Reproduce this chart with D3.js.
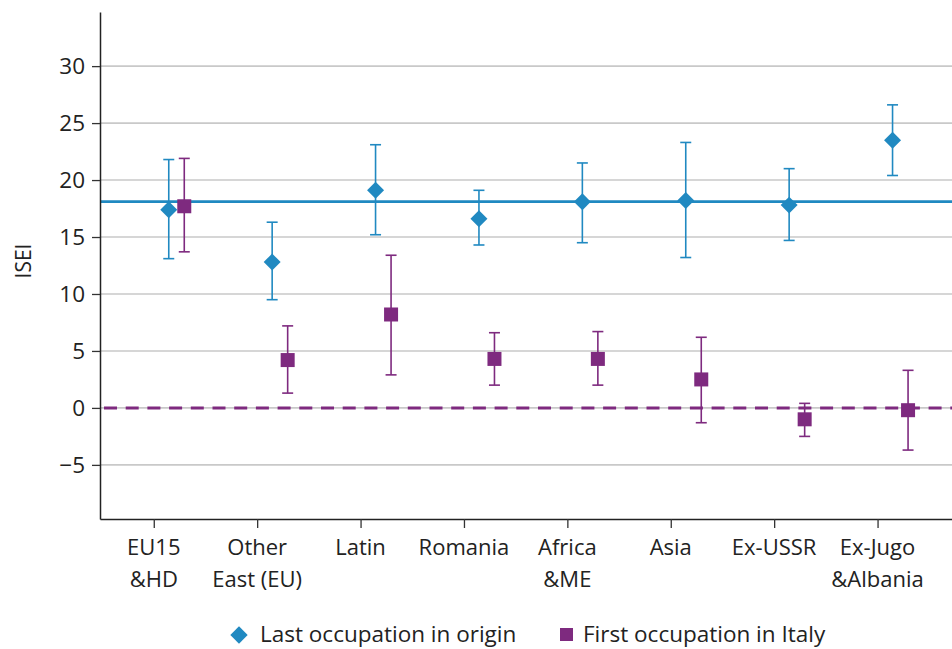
<!DOCTYPE html>
<html>
<head>
<meta charset="utf-8">
<script src="https://cdn.jsdelivr.net/npm/d3@7/dist/d3.min.js"></script>
<style>
  html, body { margin: 0; padding: 0; background: #fff; }
  svg { display: block; }
  text { font-family: "Open Sans", Lato, sans-serif; fill: #222; }
</style>
</head>
<body>
<svg id="chart" width="952" height="649"></svg>
<script>
// Origin groups (two-line labels split on "\n")
const categories = ["EU15\n&HD", "Other\nEast (EU)", "Latin", "Romania", "Africa\n&ME", "Asia", "Ex-USSR", "Ex-Jugo\n&Albania"];

// ISEI, last occupation in country of origin: estimate with confidence interval
const originValue = [17.4, 12.8, 19.1, 16.6, 18.1, 18.2, 17.8, 23.5];
const originLow   = [13.1,  9.5, 15.2, 14.3, 14.5, 13.2, 14.7, 20.4];
const originHigh  = [21.8, 16.3, 23.1, 19.1, 21.5, 23.3, 21.0, 26.6];

// ISEI, first occupation in Italy: estimate with confidence interval
const italyValue = [17.7, 4.2,  8.2, 4.3, 4.3,  2.5, -1.0, -0.2];
const italyLow   = [13.7, 1.3,  2.9, 2.0, 2.0, -1.3, -2.5, -3.7];
const italyHigh  = [21.9, 7.2, 13.4, 6.6, 6.7,  6.2,  0.4,  3.3];

// Reference levels drawn across the plot
const originReference = 18.1;
const italyReference = 0;

const yTicks = [-5, 0, 5, 10, 15, 20, 25, 30];
const seriesNames = ["Last occupation in origin", "First occupation in Italy"];

const blue = "#2089c1";
const purple = "#7e2a7f";
const gridColor = "#c9c9c9";

const svg = d3.select("#chart");
const plot = { left: 100, right: 952, top: 12, bottom: 519 };

const y = d3.scaleLinear().domain([-9.75, 34.75]).range([plot.bottom, plot.top]);
const x = d3.scaleLinear().domain([-0.52, 7.72]).range([plot.left, plot.right]);
const originOffset = 0.145, italyOffset = 0.295;

// Horizontal gridlines
svg.append("g")
  .selectAll("line")
  .data(yTicks)
  .join("line")
  .attr("x1", plot.left).attr("x2", plot.right)
  .attr("y1", d => y(d)).attr("y2", d => y(d))
  .attr("stroke", gridColor)
  .attr("stroke-width", 1.6);

// Reference lines
svg.append("line")
  .attr("x1", plot.left).attr("x2", plot.right)
  .attr("y1", y(italyReference)).attr("y2", y(italyReference))
  .attr("stroke", purple).attr("stroke-width", 3)
  .attr("stroke-dasharray", "13,8.7")
  .attr("stroke-dashoffset", -4);

svg.append("line")
  .attr("x1", plot.left).attr("x2", plot.right)
  .attr("y1", y(originReference)).attr("y2", y(originReference))
  .attr("stroke", blue).attr("stroke-width", 2.8);

// Y axis
const yAxis = svg.append("g")
  .attr("transform", `translate(${plot.left},0)`)
  .call(d3.axisLeft(y).tickValues(yTicks).tickSize(8).tickSizeOuter(0).tickPadding(7));
yAxis.select(".domain").attr("stroke", "#222").attr("stroke-width", 1.5);
yAxis.selectAll(".tick line").attr("stroke", "#333").attr("stroke-width", 1.3);
yAxis.selectAll(".tick text")
  .attr("font-size", 22.5)
  .attr("font-family", "'Open Sans', Lato, sans-serif")
  .attr("fill", "#222");

// X axis
const xAxis = svg.append("g")
  .attr("transform", `translate(0,${plot.bottom})`)
  .call(d3.axisBottom(x).tickValues(d3.range(categories.length)).tickSize(9).tickSizeOuter(0).tickFormat(""));
xAxis.select(".domain").attr("stroke", "#222").attr("stroke-width", 1.5);
xAxis.selectAll(".tick line").attr("stroke", "#333").attr("stroke-width", 1.3);

const xLabels = svg.append("g")
  .selectAll("text")
  .data(categories)
  .join("text")
  .attr("text-anchor", "middle")
  .attr("font-size", 22);
xLabels.each(function(d, i) {
  const t = d3.select(this);
  d.split("\n").forEach((line, k) => {
    t.append("tspan")
      .attr("x", x(i))
      .attr("y", 555 + k * 32)
      .text(line);
  });
});

// Axis title
svg.append("text")
  .attr("transform", `translate(31,261) rotate(-90)`)
  .attr("text-anchor", "middle")
  .attr("font-size", 21)
  .text("ISEI");

// Error bars
function errorBars(values, lows, highs, offset, color, capHalf) {
  const g = svg.append("g").attr("stroke", color).attr("stroke-width", 1.6).attr("fill", "none");
  values.forEach((v, i) => {
    const cx = x(i + offset);
    g.append("line").attr("x1", cx).attr("x2", cx).attr("y1", y(lows[i])).attr("y2", y(highs[i]));
    g.append("line").attr("x1", cx - capHalf).attr("x2", cx + capHalf).attr("y1", y(highs[i])).attr("y2", y(highs[i]));
    g.append("line").attr("x1", cx - capHalf).attr("x2", cx + capHalf).attr("y1", y(lows[i])).attr("y2", y(lows[i]));
  });
}
errorBars(originValue, originLow, originHigh, originOffset, blue, 5.5);
errorBars(italyValue, italyLow, italyHigh, italyOffset, purple, 5.5);

// Markers: diamonds (squares turned 45°) and squares
const diamond = d3.symbol().type(d3.symbolSquare).size(144);
svg.append("g")
  .selectAll("path")
  .data(originValue)
  .join("path")
  .attr("d", diamond)
  .attr("transform", (d, i) => `translate(${x(i + originOffset)},${y(d)}) rotate(45)`)
  .attr("fill", blue);

const sq = 14;
svg.append("g")
  .selectAll("rect")
  .data(italyValue)
  .join("rect")
  .attr("x", (d, i) => x(i + italyOffset) - sq / 2)
  .attr("y", d => y(d) - sq / 2)
  .attr("width", sq).attr("height", sq)
  .attr("fill", purple);

// Legend
const legend = svg.append("g");
legend.append("path")
  .attr("d", d3.symbol().type(d3.symbolSquare).size(150))
  .attr("transform", "translate(239,635) rotate(45)")
  .attr("fill", blue);
legend.append("text").attr("x", 260).attr("y", 642).attr("font-size", 22.5).text(seriesNames[0]);
legend.append("rect").attr("x", 560).attr("y", 628).attr("width", 13).attr("height", 13).attr("fill", purple);
legend.append("text").attr("x", 583).attr("y", 642).attr("font-size", 22.5).text(seriesNames[1]);
</script>
</body>
</html>
